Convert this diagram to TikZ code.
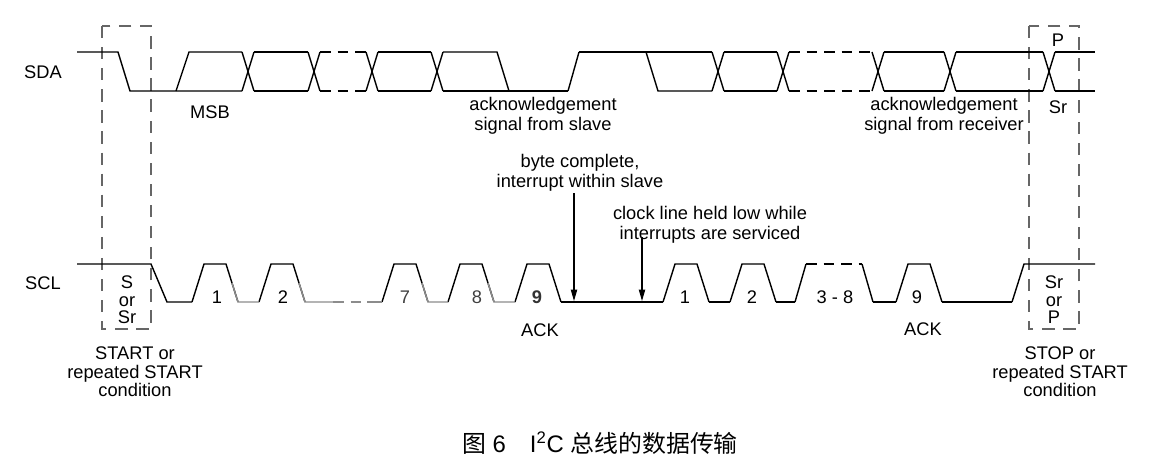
\documentclass[tikz,border=0pt]{standalone}
\usepackage{fontspec}
\setmainfont{Liberation Sans}
\newfontfamily\cjk{Noto Sans CJK SC}
\usetikzlibrary{arrows.meta}

\begin{document}
\begin{tikzpicture}[x=0.02cm, y=-0.02cm, >={Triangle[length=6.5pt,width=3.6pt]},
  wave/.style={line width=0.8pt},
  ackline/.style={line width=1.2pt},
  fade/.style={line width=0.8pt, draw=black!45},
  gapdash/.style={dash pattern=on 6pt off 4pt},
  bracket/.style={draw=black!60, line width=0.7pt, dash pattern=on 7pt off 5pt},
  lbl/.style={font=\fontsize{10.4}{11.4}\selectfont, align=center, inner sep=0pt}]
\useasboundingbox (0,0) rectangle (1168,468);

% dashed boxes round start and stop
\draw[bracket] (102,26) rectangle (151,329);
\draw[bracket] (1029,26) rectangle (1079,329);

% SDA waveform
\draw[wave] (77,52) -- (118,52) -- (130,91) -- (242,91);
\draw[wave] (176,91) -- (189,52) -- (242,52);
\foreach \c in {248,314,372,437,718,783,878,950,1049}{
  \draw[wave] (\c-6,52) -- (\c+6,91) (\c-6,91) -- (\c+6,52);
}
\foreach \a/\b in {254/308,378/431,724/777,956/1043,1055/1095}{
  \draw[wave] (\a,52) -- (\b,52) (\a,91) -- (\b,91);
}
\foreach \a/\b in {320/366,789/872}{
  \draw[wave, gapdash] (\a,52) -- (\b,52) (\a,91) -- (\b,91);
}
\draw[wave] (443,52) -- (497,52) -- (509,91);
\draw[wave] (443,91) -- (509,91);
\draw[ackline] (509,91) -- (568,91);
\draw[wave] (568,91) -- (579,52);
\draw[ackline] (579,52) -- (646,52);
\draw[wave] (646,52) -- (712,52);
\draw[wave] (646,52) -- (658,91) -- (712,91);
\draw[wave] (884,52) -- (944,52);
\draw[ackline] (884,91) -- (944,91);

% SCL waveform
\draw[wave] (77,264) -- (151,264) -- (167,302) -- (192,302);
\foreach \r in {192,259,382,448,515,663,730,896}{
  \draw[wave] (\r,302) -- ++(12,-38) -- ++(22,0) -- ++(12,38);
}
\draw[wave] (795,302) -- (806,264);
\draw[wave, gapdash] (806,264) -- (862,264);
\draw[wave] (862,264) -- (873,302);
\foreach \a/\b in {561/663,709/730,776/795,873/896,942/1012}{
  \draw[wave] (\a,302) -- (\b,302);
}
\draw[wave] (1012,302) -- (1024,264) -- (1095,264);
% first byte, faded low parts
\foreach \r/\e in {192/259,259/333,382/448,448/515}{
  \draw[fade] (\r+40,283) -- (\r+46,302) -- (\e,302);
}
\draw[fade, gapdash] (333,302) -- (367,302);
\draw[fade] (367,302) -- (382,302);

% line names
\node[lbl] (sda) at (43,72) {SDA};
\node[lbl] (scl) at (43,283) {SCL};

% SDA labels
\node[lbl] (msb) at (210,112) {MSB};
\node[lbl] (ackslave) at (543,116) {acknowledgement\\signal from slave};
\node[lbl] (ackrecv) at (944,116) {acknowledgement\\signal from receiver};
\node[lbl] (stopP) at (1058,40) {P};
\node[lbl] (stopSr) at (1058,107) {Sr};

% clock pulse numbers
\foreach \x/\t in {217/1,283/2,685/1,752/2,835/3 - 8,917/9}{
  \node[lbl] (n\x) at (\x,297) {\t};
}
\foreach \x/\t in {405/7,477/8}{
  \node[lbl, text=black!75] (n\x) at (\x,297) {\t};
}
\node[lbl, text=black!80, font=\fontsize{10.4}{11.4}\selectfont\bfseries] (n537) at (537,297) {9};
\node[lbl] (ackA) at (540,330) {ACK};
\node[lbl] (ackB) at (923,329) {ACK};

% box contents and conditions
\node[lbl, font=\fontsize{10.4}{10}\selectfont] (startin) at (127,300) {S\\or\\Sr};
\node[lbl, font=\fontsize{10.4}{10}\selectfont] (stopin) at (1054,300) {Sr\\or\\P};
\node[lbl, font=\fontsize{10.4}{10.5}\selectfont] (startcond) at (135,372) {START or\\repeated START\\condition};
\node[lbl, font=\fontsize{10.4}{10.5}\selectfont] (stopcond) at (1060,372) {STOP or\\repeated START\\condition};

% notes with arrows down to SCL
\node[lbl] (bytenote) at (580,173) {byte complete,\\interrupt within slave};
\node[lbl] (holdnote) at (710,225) {clock line held low while\\interrupts are serviced};
\coordinate (bytetip) at (574,301);
\coordinate (holdtip) at (642,301);
\draw[->, line width=0.6pt] (bytetip |- 0,193) -- (bytetip);
\draw[->, line width=0.6pt] (holdtip |- 0,237) -- (holdtip);

% caption
\node[font=\fontsize{13.6}{16}\selectfont, inner sep=0pt] (caption) at (600,443)
 {{\cjk 图} 6\quad I\textsuperscript{2}C {\cjk 总线的数据传输}};
\end{tikzpicture}
\end{document}
